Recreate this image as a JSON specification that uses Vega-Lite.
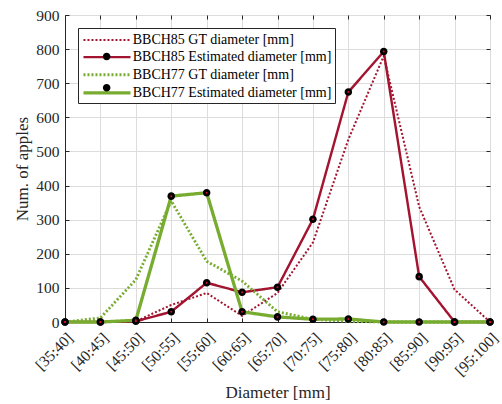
{
  "$schema": "https://vega.github.io/schema/vega-lite/v6.json",
  "width": 425,
  "height": 307,
  "autosize": {"type": "none"},
  "padding": {"left": 65, "top": 15, "right": 12, "bottom": 82},
  "background": "white",
  "config": {
    "font": "Liberation Serif",
    "view": {"stroke": "#262626", "strokeWidth": 1},
    "axis": {
      "labelFont": "Liberation Serif",
      "titleFont": "Liberation Serif",
      "labelFontSize": 15.5,
      "titleFontSize": 17,
      "titleFontWeight": "normal",
      "labelColor": "#262626",
      "titleColor": "#262626",
      "domainColor": "#262626",
      "tickColor": "#262626",
      "gridColor": "#dcdcdc",
      "gridWidth": 1
    }
  },
  "data": {
    "values": [
      {"d": "[35:40]", "s": "BBCH85 GT diameter [mm]", "v": 0},
      {"d": "[40:45]", "s": "BBCH85 GT diameter [mm]", "v": 2},
      {"d": "[45:50]", "s": "BBCH85 GT diameter [mm]", "v": 2},
      {"d": "[50:55]", "s": "BBCH85 GT diameter [mm]", "v": 50},
      {"d": "[55:60]", "s": "BBCH85 GT diameter [mm]", "v": 85},
      {"d": "[60:65]", "s": "BBCH85 GT diameter [mm]", "v": 18},
      {"d": "[65:70]", "s": "BBCH85 GT diameter [mm]", "v": 85},
      {"d": "[70:75]", "s": "BBCH85 GT diameter [mm]", "v": 233},
      {"d": "[75:80]", "s": "BBCH85 GT diameter [mm]", "v": 535},
      {"d": "[80:85]", "s": "BBCH85 GT diameter [mm]", "v": 780},
      {"d": "[85:90]", "s": "BBCH85 GT diameter [mm]", "v": 338},
      {"d": "[90:95]", "s": "BBCH85 GT diameter [mm]", "v": 95},
      {"d": "[95:100]", "s": "BBCH85 GT diameter [mm]", "v": 0},
      {"d": "[35:40]", "s": "BBCH85 Estimated diameter [mm]", "v": 0},
      {"d": "[40:45]", "s": "BBCH85 Estimated diameter [mm]", "v": 0},
      {"d": "[45:50]", "s": "BBCH85 Estimated diameter [mm]", "v": 2},
      {"d": "[50:55]", "s": "BBCH85 Estimated diameter [mm]", "v": 30},
      {"d": "[55:60]", "s": "BBCH85 Estimated diameter [mm]", "v": 115},
      {"d": "[60:65]", "s": "BBCH85 Estimated diameter [mm]", "v": 87},
      {"d": "[65:70]", "s": "BBCH85 Estimated diameter [mm]", "v": 102},
      {"d": "[70:75]", "s": "BBCH85 Estimated diameter [mm]", "v": 301},
      {"d": "[75:80]", "s": "BBCH85 Estimated diameter [mm]", "v": 674},
      {"d": "[80:85]", "s": "BBCH85 Estimated diameter [mm]", "v": 793},
      {"d": "[85:90]", "s": "BBCH85 Estimated diameter [mm]", "v": 133},
      {"d": "[90:95]", "s": "BBCH85 Estimated diameter [mm]", "v": 0},
      {"d": "[95:100]", "s": "BBCH85 Estimated diameter [mm]", "v": 0},
      {"d": "[35:40]", "s": "BBCH77 GT diameter [mm]", "v": 0},
      {"d": "[40:45]", "s": "BBCH77 GT diameter [mm]", "v": 12},
      {"d": "[45:50]", "s": "BBCH77 GT diameter [mm]", "v": 124},
      {"d": "[50:55]", "s": "BBCH77 GT diameter [mm]", "v": 355},
      {"d": "[55:60]", "s": "BBCH77 GT diameter [mm]", "v": 178},
      {"d": "[60:65]", "s": "BBCH77 GT diameter [mm]", "v": 120},
      {"d": "[65:70]", "s": "BBCH77 GT diameter [mm]", "v": 30},
      {"d": "[70:75]", "s": "BBCH77 GT diameter [mm]", "v": 8},
      {"d": "[75:80]", "s": "BBCH77 GT diameter [mm]", "v": 2},
      {"d": "[80:85]", "s": "BBCH77 GT diameter [mm]", "v": 0},
      {"d": "[85:90]", "s": "BBCH77 GT diameter [mm]", "v": 0},
      {"d": "[90:95]", "s": "BBCH77 GT diameter [mm]", "v": 0},
      {"d": "[95:100]", "s": "BBCH77 GT diameter [mm]", "v": 0},
      {"d": "[35:40]", "s": "BBCH77 Estimated diameter [mm]", "v": 0},
      {"d": "[40:45]", "s": "BBCH77 Estimated diameter [mm]", "v": 0},
      {"d": "[45:50]", "s": "BBCH77 Estimated diameter [mm]", "v": 5},
      {"d": "[50:55]", "s": "BBCH77 Estimated diameter [mm]", "v": 369},
      {"d": "[55:60]", "s": "BBCH77 Estimated diameter [mm]", "v": 379},
      {"d": "[60:65]", "s": "BBCH77 Estimated diameter [mm]", "v": 30},
      {"d": "[65:70]", "s": "BBCH77 Estimated diameter [mm]", "v": 15},
      {"d": "[70:75]", "s": "BBCH77 Estimated diameter [mm]", "v": 8},
      {"d": "[75:80]", "s": "BBCH77 Estimated diameter [mm]", "v": 9},
      {"d": "[80:85]", "s": "BBCH77 Estimated diameter [mm]", "v": 0},
      {"d": "[85:90]", "s": "BBCH77 Estimated diameter [mm]", "v": 0},
      {"d": "[90:95]", "s": "BBCH77 Estimated diameter [mm]", "v": 0},
      {"d": "[95:100]", "s": "BBCH77 Estimated diameter [mm]", "v": 0}
    ]
  },
  "resolve": {"axis": {"x": "independent", "y": "independent"}},
  "layer": [
    {
      "mark": {"type": "line", "strokeCap": "butt"},
      "encoding": {
        "x": {
          "field": "d", "type": "nominal",
          "sort": ["[35:40]","[40:45]","[45:50]","[50:55]","[55:60]","[60:65]","[65:70]","[70:75]","[75:80]","[80:85]","[85:90]","[90:95]","[95:100]"],
          "scale": {"type": "point", "padding": 0},
          "axis": {"orient": "bottom", "title": "Diameter [mm]", "labelAngle": -45, "labelAlign": "right", "labelBaseline": "top", "labelPadding": 12, "labelOffset": 0, "tickSize": -4, "grid": true, "titlePadding": 6}
        },
        "y": {
          "field": "v", "type": "quantitative",
          "scale": {"domain": [0, 900], "nice": false},
          "axis": {"orient": "left", "title": "Num. of apples", "values": [0,100,200,300,400,500,600,700,800,900], "tickSize": -4, "labelPadding": 10, "grid": true, "titlePadding": 4}
        },
        "color": {
          "field": "s", "type": "nominal",
          "scale": {
            "domain": ["BBCH85 GT diameter [mm]", "BBCH85 Estimated diameter [mm]", "BBCH77 GT diameter [mm]", "BBCH77 Estimated diameter [mm]"],
            "range": ["#A2142F", "#A2142F", "#77AC30", "#77AC30"]
          },
          "legend": {
            "orient": "top-left", "offset": 13, "title": null,
            "labelFontSize": 14, "labelFont": "Liberation Serif", "labelColor": "#000000", "labelLimit": 400,
            "symbolType": "M-2.94,0H2.94", "symbolSize": 256, "symbolOffset": 16, "labelOffset": 15.7,
            "strokeColor": "#262626", "fillColor": "white", "padding": 3, "rowPadding": 0.6
          }
        },
        "strokeDash": {
          "field": "s", "type": "nominal",
          "scale": {
            "domain": ["BBCH85 GT diameter [mm]", "BBCH85 Estimated diameter [mm]", "BBCH77 GT diameter [mm]", "BBCH77 Estimated diameter [mm]"],
            "range": [[2, 2], [1, 0], [2, 2], [1, 0]]
          }
        },
        "strokeWidth": {
          "field": "s", "type": "nominal",
          "scale": {
            "domain": ["BBCH85 GT diameter [mm]", "BBCH85 Estimated diameter [mm]", "BBCH77 GT diameter [mm]", "BBCH77 Estimated diameter [mm]"],
            "range": [2, 3.3, 2, 3.3]
          }
        }
      }
    },
    {
      "transform": [{"filter": {"field": "s", "oneOf": ["BBCH85 Estimated diameter [mm]", "BBCH77 Estimated diameter [mm]"]}}],
      "mark": {"type": "point", "filled": true, "color": "black", "opacity": 1, "size": 256},
      "encoding": {
        "x": {"field": "d", "type": "nominal", "sort": ["[35:40]","[40:45]","[45:50]","[50:55]","[55:60]","[60:65]","[65:70]","[70:75]","[75:80]","[80:85]","[85:90]","[90:95]","[95:100]"], "axis": null},
        "y": {"field": "v", "type": "quantitative", "axis": null},
        "shape": {
          "field": "s", "type": "nominal",
          "scale": {
            "domain": ["BBCH85 GT diameter [mm]", "BBCH85 Estimated diameter [mm]", "BBCH77 GT diameter [mm]", "BBCH77 Estimated diameter [mm]", " "],
            "range": ["M0,0", "M-0.47,0A0.47,0.47,0,1,0,0.47,0A0.47,0.47,0,1,0,-0.47,0Z", "M0,0", "M-0.47,0A0.47,0.47,0,1,0,0.47,0A0.47,0.47,0,1,0,-0.47,0Z", "M0,0"]
          },
          "legend": {
            "orient": "none", "legendX": 14.65, "legendY": 15, "title": null, "zindex": 2,
            "labelFontSize": 14, "labelFont": "Liberation Serif", "labelOpacity": 0, "labelLimit": 400,
            "symbolSize": 256, "symbolOffset": 16, "labelOffset": 15.7, "symbolFillColor": "black", "symbolStrokeColor": "transparent", "symbolStrokeWidth": 0,
            "padding": 3, "rowPadding": 0.6
          }
        }
      }
    },
    {
      "transform": [{"filter": {"field": "s", "oneOf": ["BBCH85 Estimated diameter [mm]", "BBCH77 Estimated diameter [mm]"]}}],
      "mark": {"type": "point", "filled": true, "color": "#D01030", "opacity": 1, "size": 4},
      "encoding": {
        "x": {"field": "d", "type": "nominal", "sort": ["[35:40]","[40:45]","[45:50]","[50:55]","[55:60]","[60:65]","[65:70]","[70:75]","[75:80]","[80:85]","[85:90]","[90:95]","[95:100]"], "axis": null},
        "y": {"field": "v", "type": "quantitative", "axis": null}
      }
    },
    {
      "mark": {"type": "point", "opacity": 0},
      "encoding": {
        "x": {"field": "d", "type": "nominal", "sort": ["[35:40]","[40:45]","[45:50]","[50:55]","[55:60]","[60:65]","[65:70]","[70:75]","[75:80]","[80:85]","[85:90]","[90:95]","[95:100]"],
          "axis": {"orient": "top", "title": null, "labels": false, "grid": false, "domain": false, "tickSize": -4}},
        "y": {"field": "v", "type": "quantitative",
          "axis": {"orient": "right", "title": null, "labels": false, "grid": false, "domain": false, "tickSize": -4, "values": [0,100,200,300,400,500,600,700,800,900]}}
      }
    }
  ]
}
